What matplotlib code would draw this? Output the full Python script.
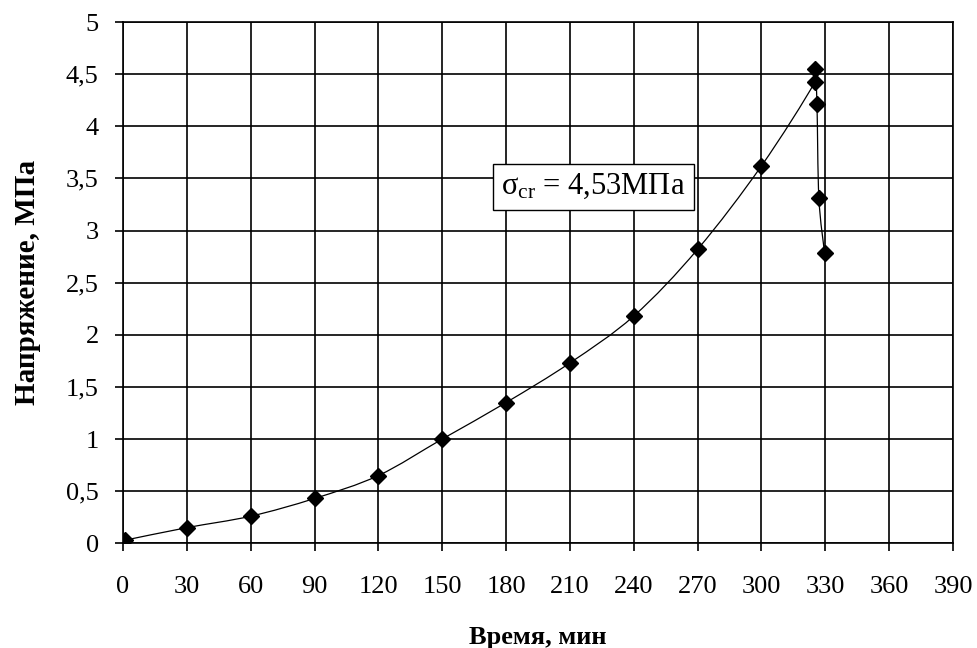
import numpy as np
import matplotlib
matplotlib.use('Agg')
import matplotlib.pyplot as plt
from matplotlib.path import Path
from matplotlib.patches import PathPatch
from matplotlib.ticker import FuncFormatter, MultipleLocator

plt.rcParams['font.family'] = ['Liberation Serif', 'DejaVu Serif']
plt.rcParams['mathtext.fontset'] = 'custom'
plt.rcParams['mathtext.rm'] = 'Liberation Serif'
plt.rcParams['mathtext.it'] = 'Liberation Serif:italic'

# time, min / stress, MPa
time_min = [1, 30, 60, 90, 120, 150, 180, 210, 240, 270, 300, 325.0, 325.3, 326.1, 327.0, 329.7]
stress_mpa = [0.03, 0.15, 0.26, 0.43, 0.65, 1.00, 1.35, 1.73, 2.18, 2.82, 3.62, 4.42, 4.55, 4.21, 3.31, 2.78]

x_ticks = np.arange(0, 391, 30)
annot_text = 'σ$_{\\mathrm{cr}}$ = 4,53МПа'


def smooth_path(x, y):
    # excel-like smoothed line: bezier segments through the points
    p = np.column_stack([x, y])
    verts = [p[0]]
    codes = [Path.MOVETO]
    n = len(p)
    for i in range(n - 1):
        p0 = p[i - 1] if i > 0 else p[i]
        p1 = p[i]
        p2 = p[i + 1]
        p3 = p[i + 2] if i + 2 < n else p[i + 1]
        c1 = p1 + (p2 - p0) / 6.0
        c2 = p2 - (p3 - p1) / 6.0
        verts += [c1, c2, p2]
        codes += [Path.CURVE4] * 3
    return Path(verts, codes)


fig = plt.figure(figsize=(9.78, 6.48), dpi=100)
ax = fig.add_axes([0.1258, 0.1616, 0.8486, 0.8044])

ax.add_patch(PathPatch(smooth_path(time_min, stress_mpa), fill=False,
                       edgecolor='black', linewidth=0.9, zorder=3))
ax.plot(time_min, stress_mpa, linestyle='none', marker='D', markersize=8,
        color='black', zorder=4)

ax.set_xlim(0, 390)
ax.set_ylim(0, 5)
ax.set_xticks(x_ticks)
ax.yaxis.set_major_locator(MultipleLocator(0.5))
ax.yaxis.set_major_formatter(FuncFormatter(lambda v, pos: f'{v:g}'.replace('.', ',')))
ax.grid(True, color='black', linewidth=1.2)
ax.set_axisbelow(True)
for s in ax.spines.values():
    s.set_linewidth(1.2)
ax.tick_params(direction='out', length=5.5, width=1.2, labelsize=19)
ax.tick_params(axis='x', pad=18)
ax.tick_params(axis='y', pad=12)

ax.set_xlabel('Время, мин', fontsize=19, fontweight='bold', labelpad=20)
ax.set_ylabel('Напряжение, МПа', fontsize=21, fontweight='bold', labelpad=18)

ax.text(221, 3.42, annot_text, fontsize=22, ha='center', va='center', zorder=5,
        bbox=dict(boxstyle='square,pad=0.27', facecolor='white', edgecolor='black', linewidth=1.0))

fig.savefig('out.png', dpi=100)
